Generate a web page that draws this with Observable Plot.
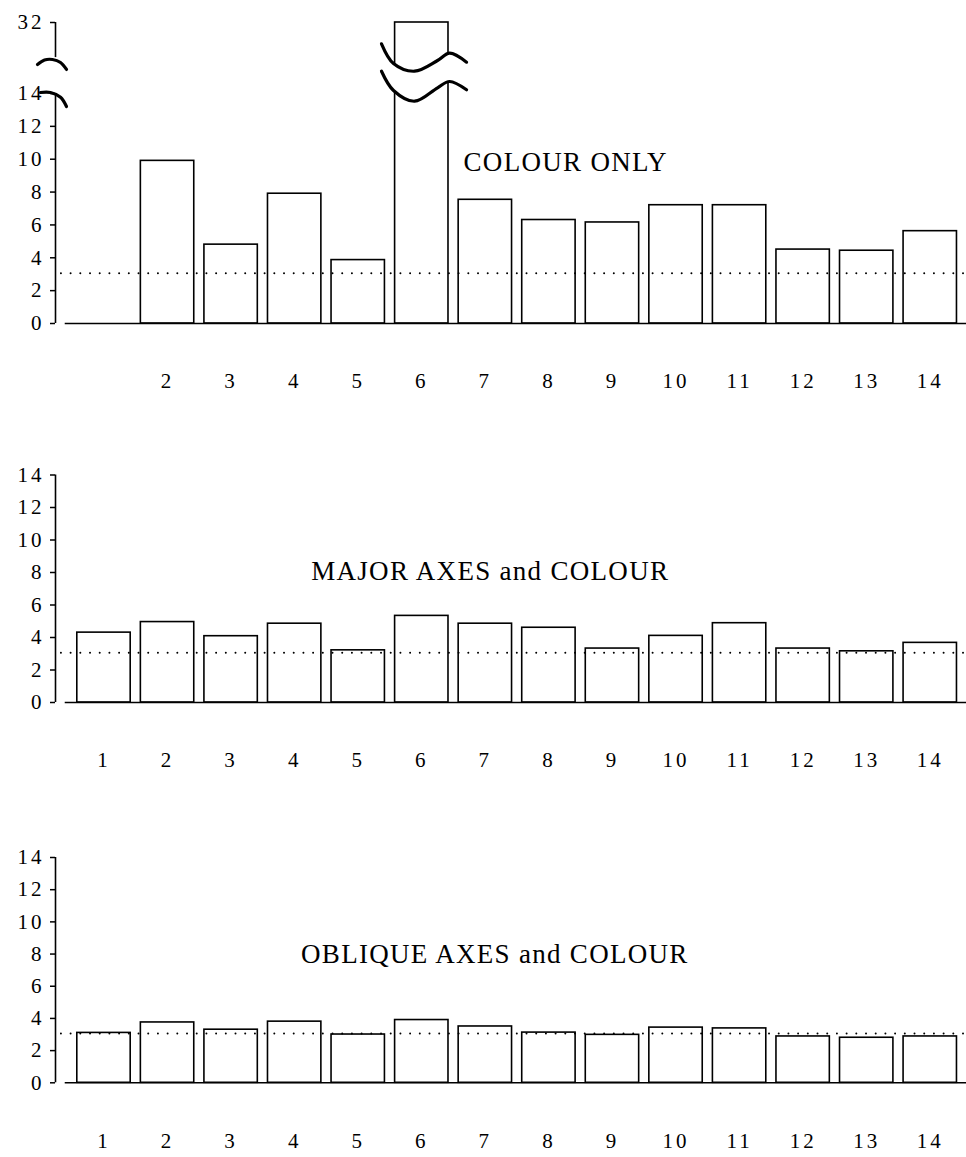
<!DOCTYPE html>
<html><head><meta charset="utf-8">
<script src="https://cdn.jsdelivr.net/npm/d3@7"></script>
<script src="https://cdn.jsdelivr.net/npm/@observablehq/plot@0.6"></script>
<style>
body{margin:0;background:#fff;}
#chart{width:966px;}
#chart svg{display:block;}
</style></head><body><div id="chart"></div>
<script>
// ---- data ----
const categories = d3.range(1, 15);
const colourOnly  = [0, 9.9, 4.8, 7.9, 3.86, 32, 7.53, 6.3, 6.15, 7.2, 7.2, 4.5, 4.43, 5.62];
const majorAxes   = [4.3, 4.95, 4.08, 4.85, 3.21, 5.33, 4.85, 4.6, 3.32, 4.1, 4.88, 3.32, 3.15, 3.67];
const obliqueAxes = [3.1, 3.75, 3.3, 3.8, 3.0, 3.9, 3.5, 3.12, 2.98, 3.43, 3.38, 2.88, 2.8, 2.88];
const threshold = 3.06;
const titles = ["COLOUR ONLY", "MAJOR AXES and COLOUR", "OBLIQUE AXES and COLOUR"];
const yTickLabels = [0, 2, 4, 6, 8, 10, 12, 14];
const brokenTop = 32;
const xTicksFirst = d3.range(2, 15);
const xTicksOther = d3.range(1, 15);
// break symbols (data units)
const waveX      = [5.366, 5.555, 5.886, 6.248, 6.437, 6.704];
const waveTop    = [26.6, 21.6, 19.65, 22.37, 24.22, 21.94];
const waveBottom = [19.65, 14.76, 13.53, 15.45, 17.04, 14.94];
const axisBreakUpperX = [-0.046, 0.064, 0.19, 0.316, 0.41];
const axisBreakUpperY = [21.35, 22.49, 22.62, 21.86, 20.09];
const axisBreakLowerX = [0.0, 0.158, 0.316, 0.41];
const axisBreakLowerY = [14.25, 14.25, 13.77, 13.21];
const axisUpperBottom = 23.1;

const xDomain = [0.237, 14.57];
const xAxisStart = 0.39;
const dotStart = 0.33;
const halfBar = 0.42;

function panel({values, title, titleX, titleY, xTicks, yDomain, yRange, height, yTicks, broken}) {
  const data = categories.map((c, i) => ({c, v: values[i]})).filter(d => d.v > 0);
  const wave = waveX.map((x, i) => ({x, hi: waveTop[i], lo: waveBottom[i]}));
  const marks = [
    Plot.rect(data, {x1: d => d.c - halfBar, x2: d => d.c + halfBar, y1: 0, y2: "v",
      fill: "white", stroke: "black", strokeWidth: 1.6}),
  ];
  if (broken) {
    marks.push(
      Plot.areaY(wave, {x: "x", y1: "lo", y2: "hi", fill: "white", curve: "catmull-rom"}),
      Plot.line(wave, {x: "x", y: "hi", stroke: "black", strokeWidth: 3.2, curve: "catmull-rom"}),
      Plot.line(wave, {x: "x", y: "lo", stroke: "black", strokeWidth: 3.2, curve: "catmull-rom"}),
      Plot.ruleX([xDomain[0]], {y1: axisUpperBottom, y2: brokenTop, strokeWidth: 1.6}),
      Plot.line(axisBreakUpperX.map((x, i) => ({x, y: axisBreakUpperY[i]})), {x: "x", y: "y", strokeWidth: 3.2, curve: "catmull-rom"}),
      Plot.line(axisBreakLowerX.map((x, i) => ({x, y: axisBreakLowerY[i]})), {x: "x", y: "y", strokeWidth: 3.2, curve: "catmull-rom"})
    );
  }
  marks.push(
    Plot.ruleY([threshold], {x1: dotStart, x2: xDomain[1], stroke: "black", strokeWidth: 2,
      strokeDasharray: "0,9.7", strokeLinecap: "round"}),
    Plot.ruleY([0], {x1: xAxisStart, x2: xDomain[1], strokeWidth: 1.6}),
    Plot.ruleX([xDomain[0]], {y1: 0, y2: 14, strokeWidth: 1.6}),
    Plot.axisY({ticks: yTicks, tickSize: 5, tickPadding: 6, tickFormat: d => String(d), strokeWidth: 1.5, label: null}),
    Plot.axisX({ticks: xTicks, tickSize: 0, tickPadding: 50, tickFormat: d => String(d), label: null}),
    Plot.text([title], {x: titleX, y: titleY, text: d => d, textAnchor: "start", fontSize: 27, ariaLabel: "panel title"})
  );
  const svg = Plot.plot({
    width: 966, height,
    marginLeft: 55, marginRight: 0,
    marginTop: yRange[yRange.length - 1], marginBottom: height - yRange[0],
    style: {fontFamily: "Liberation Serif", fontSize: "21px", letterSpacing: "3px", color: "black", background: "white"},
    x: {type: "linear", domain: xDomain, range: [55, 966], axis: null, label: null},
    y: {type: "linear", domain: yDomain, range: yRange, axis: null, label: null},
    marks
  });
  d3.select(svg).selectAll('text[aria-label="panel title"], g[aria-label="panel title"] text, g[aria-label="text"] text')
    .style("letter-spacing", "1.3px");
  return svg;
}

const root = document.getElementById("chart");
root.appendChild(panel({values: colourOnly, title: titles[0], titleX: 6.657, titleY: 9.81,
  xTicks: xTicksFirst, yDomain: [0, 14, brokenTop], yRange: [323, 93, 22], height: 400,
  yTicks: [...yTickLabels, brokenTop], broken: true}));
root.appendChild(panel({values: majorAxes, title: titles[1], titleX: 4.26, titleY: 8.1,
  xTicks: xTicksOther, yDomain: [0, 14], yRange: [302, 74.5], height: 379,
  yTicks: yTickLabels, broken: false}));
root.appendChild(panel({values: obliqueAxes, title: titles[2], titleX: 4.1, titleY: 8.0,
  xTicks: xTicksOther, yDomain: [0, 14], yRange: [303.3, 78], height: 378,
  yTicks: yTickLabels, broken: false}));
</script></body></html>
